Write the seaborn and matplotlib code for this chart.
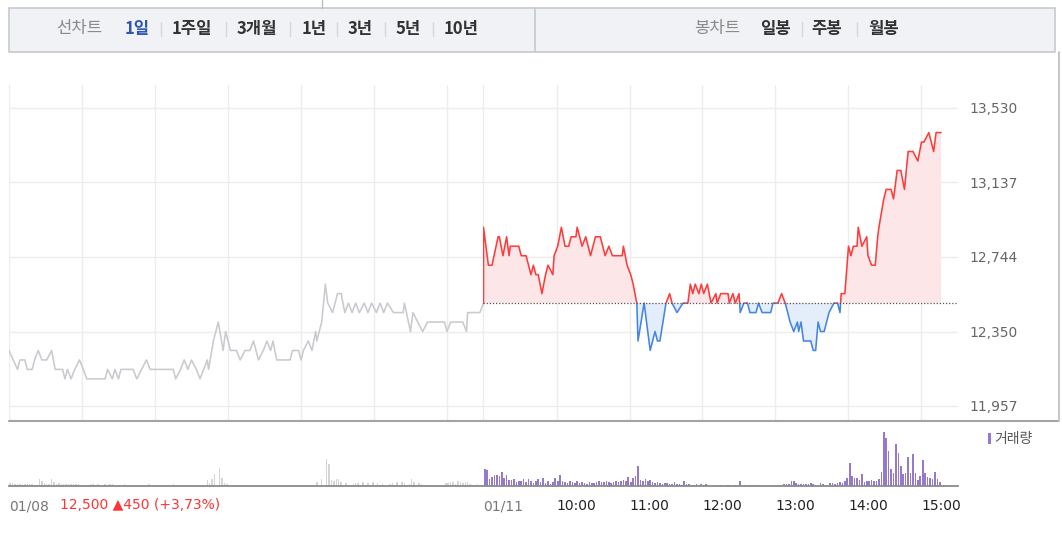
import matplotlib
matplotlib.use("Agg")
import matplotlib.pyplot as plt
from matplotlib.lines import Line2D
from matplotlib.patches import Rectangle
import numpy as np
import pandas as pd
import seaborn as sns

# ---------------- data ----------------
prev_close = 12500
y_ticks = [11957, 12350, 12744, 13137, 13530]
day_labels = ["01/08", "01/11"]
hour_labels = ["10:00", "11:00", "12:00", "13:00", "14:00", "15:00"]
day_change = "12,500 \u25b2450 (+3,73%)"

# 01/08 : minutes after 09:00, price
t08 = [0, 7, 9, 13, 15, 19, 21, 24, 27, 31, 35, 38, 44, 46, 48, 51, 54, 58, 61, 64,
       79, 81, 85, 87, 90, 92, 102, 105, 109, 113, 116, 135, 137, 141, 144, 147, 150,
       154, 157, 160, 163, 164, 168, 172, 176, 178, 182, 187, 190, 194, 198, 201, 205,
       209, 212, 215, 217, 220, 231, 233, 238, 240, 242, 246, 249, 252, 253, 257, 260,
       262, 266, 270, 273, 276, 279, 282, 285, 288, 292, 295, 298, 302, 305, 308, 311,
       316, 324, 325, 330, 332, 336, 340, 344, 358, 360, 363, 373, 376, 377, 387, 390]
p08 = [12250, 12150, 12200, 12200, 12150, 12150, 12200, 12250, 12200, 12200, 12250,
       12150, 12150, 12100, 12150, 12100, 12150, 12200, 12150, 12100, 12100, 12150,
       12100, 12150, 12100, 12150, 12150, 12100, 12150, 12200, 12150, 12150, 12100,
       12150, 12200, 12150, 12200, 12150, 12100, 12150, 12200, 12150, 12300, 12400,
       12250, 12350, 12250, 12250, 12200, 12250, 12250, 12300, 12200, 12250, 12300,
       12250, 12300, 12200, 12200, 12250, 12250, 12200, 12250, 12300, 12250, 12350,
       12300, 12400, 12600, 12500, 12450, 12550, 12550, 12450, 12500, 12450, 12500,
       12450, 12500, 12450, 12500, 12450, 12500, 12450, 12500, 12450, 12450, 12500,
       12350, 12450, 12400, 12350, 12400, 12400, 12350, 12400, 12400, 12350, 12450,
       12450, 12500]

# 01/11 : minutes after 09:00, price
t11 = [0, 4, 7, 12, 13, 16, 19, 21, 22, 29, 31, 35, 37, 39, 41, 43, 45, 48, 51, 53,
       57, 58, 61, 64, 67, 70, 72, 76, 77, 81, 84, 88, 92, 96, 100, 103, 106, 114, 115,
       118, 121, 123, 126, 127, 132, 137, 141, 143, 145, 150, 153, 155, 159, 164, 168,
       170, 172, 174, 177, 179, 181, 184, 187, 191, 192, 195, 201, 202, 205, 207, 210,
       211, 214, 217, 219, 224, 226, 229, 236, 238, 242, 245, 248, 252, 255, 258, 259,
       261, 263, 269, 271, 273, 275, 277, 280, 284, 288, 291, 293, 294, 297, 300, 302,
       304, 307, 308, 311, 315, 316, 319, 322, 324, 325, 329, 331, 335, 337, 340, 343,
       346, 349, 353, 357, 360, 362, 366, 370, 372, 376]
p11 = [12900, 12700, 12700, 12850, 12850, 12750, 12850, 12750, 12800, 12800, 12750,
       12750, 12700, 12650, 12700, 12650, 12650, 12550, 12650, 12700, 12650, 12750,
       12800, 12900, 12800, 12800, 12850, 12850, 12900, 12800, 12850, 12750, 12850,
       12850, 12750, 12800, 12750, 12750, 12800, 12700, 12650, 12600, 12500, 12300,
       12500, 12250, 12350, 12300, 12300, 12500, 12550, 12500, 12450, 12500, 12500,
       12600, 12550, 12600, 12550, 12600, 12550, 12600, 12500, 12550, 12500, 12550,
       12550, 12500, 12550, 12500, 12550, 12450, 12500, 12500, 12450, 12450, 12500,
       12450, 12450, 12500, 12500, 12550, 12500, 12400, 12350, 12400, 12350, 12400,
       12300, 12300, 12250, 12250, 12400, 12350, 12350, 12450, 12500, 12500, 12450,
       12550, 12550, 12800, 12750, 12800, 12800, 12900, 12800, 12850, 12750, 12700,
       12700, 12850, 12900, 13050, 13100, 13100, 13050, 13200, 13200, 13100, 13300,
       13300, 13250, 13350, 13350, 13400, 13300, 13400, 13400]

# volume, 2-minute bins from 09:00 (thousand shares)
vol08 = [3, 3, 2, 2, 2, 1, 2, 2, 2, 2, 1, 1, 7, 5, 3,
         2, 2, 7, 4, 2, 3, 2, 2, 2, 2, 2, 2, 2, 2, 1,
         0, 0, 0, 2, 2, 0, 2, 0, 0, 2, 1, 2, 2, 0, 0,
         0, 0, 2, 1, 0, 0, 0, 0, 0, 0, 0, 0, 2, 0, 1,
         0, 0, 1, 0, 0, 0, 0, 2, 0, 1, 0, 0, 1, 0, 0,
         0, 0, 0, 0, 0, 0, 6, 3, 7, 12, 0, 18, 8, 3, 2,
         1, 0, 1, 0, 1, 0, 0, 1, 0, 0, 0, 0, 0, 0, 0,
         0, 0, 0, 1, 0, 0, 0, 0, 0, 0, 1, 0, 1, 0, 0,
         1, 0, 1, 1, 0, 0, 4, 0, 7, 0, 27, 22, 6, 5, 7,
         7, 4, 0, 3, 1, 0, 2, 3, 3, 1, 4, 1, 3, 0, 4,
         0, 3, 1, 2, 0, 0, 2, 3, 1, 4, 0, 4, 3, 1, 2,
         7, 4, 1, 3, 2, 1, 0, 0, 1, 0, 0, 0, 0, 0, 3,
         3, 4, 4, 2, 5, 4, 3, 4, 4, 2, 1, 1, 2, 0, 0]
vol11 = [17, 16, 7, 9, 11, 11, 10, 14, 8, 11, 6, 6, 7, 4, 5,
         5, 7, 4, 7, 5, 3, 5, 7, 4, 8, 3, 5, 2, 4, 8,
         5, 11, 5, 4, 3, 5, 4, 3, 5, 3, 4, 3, 2, 4, 3,
         3, 4, 5, 4, 4, 5, 4, 3, 4, 5, 4, 5, 6, 5, 9,
         4, 8, 10, 20, 6, 5, 7, 5, 6, 4, 3, 4, 3, 2, 3,
         3, 2, 2, 4, 2, 2, 1, 5, 2, 2, 1, 1, 2, 0, 2,
         1, 2, 0, 0, 1, 0, 0, 1, 0, 0, 1, 0, 0, 1, 0,
         5, 1, 1, 0, 1, 1, 1, 0, 1, 0, 0, 0, 0, 0, 1,
         0, 1, 1, 2, 2, 2, 5, 5, 3, 2, 2, 2, 2, 2, 3,
         2, 1, 1, 3, 2, 1, 0, 3, 3, 2, 3, 4, 3, 5, 8,
         23, 10, 8, 8, 6, 12, 4, 5, 5, 6, 5, 5, 7, 14, 54,
         48, 35, 17, 13, 42, 33, 20, 12, 13, 29, 13, 32, 13, 6, 10,
         26, 13, 9, 8, 7, 14, 7, 4]

# ---------------- layout helpers ----------------
W, H = 1062, 537
SESSION = 390  # minutes 09:00-15:30
KR = ["Noto Sans CJK KR", "DejaVu Sans"]

RED, RED_FILL = "#ff3c3c", "#fde6e8"
BLUE, BLUE_FILL = "#4586e0", "#e4edfa"
GREY_LINE = "#c9cacf"
PURPLE = "#9479cc"


def fx(px):
    return px / W


def fy(py):
    return 1 - py / H


sns.set_style("white")
plt.rcParams["font.family"] = ["DejaVu Sans"]

fig = plt.figure(figsize=(W / 100, H / 100), dpi=100)
ax = fig.add_axes([fx(9), fy(420), fx(958) - fx(9), fy(85) - fy(420)])
axv = fig.add_axes([fx(9), fy(486), fx(958) - fx(9), fy(421) - fy(486)])

# ---------------- price panel ----------------
df08 = pd.DataFrame({"x": t08, "price": p08})
df11 = pd.DataFrame({"x": [SESSION] + [SESSION + t for t in t11],
                     "price": [prev_close] + p11})

sns.lineplot(data=df08, x="x", y="price", ax=ax, color=GREY_LINE, lw=1.15,
             estimator=None, sort=False)

x11 = df11["x"].to_numpy()
y11 = df11["price"].to_numpy()
ax.fill_between(x11, y11, prev_close, where=y11 >= prev_close, interpolate=True,
                color=RED_FILL, lw=0)
ax.fill_between(x11, y11, prev_close, where=y11 <= prev_close, interpolate=True,
                color=BLUE_FILL, lw=0)

sns.lineplot(data=df11, x="x", y="price", ax=ax, color=RED, lw=1.15,
             estimator=None, sort=False)
ax.lines[-1].set_clip_path(Rectangle((SESSION, prev_close), SESSION * 2, 5000,
                                     transform=ax.transData))
sns.lineplot(data=df11, x="x", y="price", ax=ax, color=BLUE, lw=1.15,
             estimator=None, sort=False)
ax.lines[-1].set_clip_path(Rectangle((SESSION, prev_close - 5000), SESSION * 2, 5000,
                                     transform=ax.transData))

ax.hlines(prev_close, SESSION, 2 * SESSION, colors="#555555", lw=0.9,
          linestyles=(0, (1, 1.5)), zorder=5)

ax.set_xlim(0, 2 * SESSION)
ax.set_ylim(11883, 13651)
grid_x = [d * SESSION + h * 60 for d in range(2) for h in range(7)]
ax.set_xticks(grid_x)
ax.set_xticklabels([])
ax.set_yticks(y_ticks)
ax.set_yticklabels([f"{v:,}" for v in y_ticks])
ax.yaxis.tick_right()
ax.tick_params(axis="y", length=0, pad=8, labelsize=10, labelcolor="#666666")
ax.tick_params(axis="x", length=0)
ax.grid(True, color="#ececec", lw=1)
for s in ax.spines.values():
    s.set_visible(False)
ax.set_xlabel("")
ax.set_ylabel("")
legend = ax.get_legend()
if legend:
    legend.remove()

# ---------------- volume panel ----------------
vx08 = np.arange(len(vol08)) * 2 + 1
vx11 = SESSION + np.arange(len(vol11)) * 2 + 1
axv.bar(vx08, vol08, width=1.2, color="#d3d4d8", lw=0)
axv.bar(vx11, vol11, width=1.3, color=PURPLE, lw=0)
axv.set_xlim(0, 2 * SESSION)
axv.set_ylim(0, 65)
axv.set_yticks([])
for s in ["left", "right", "top"]:
    axv.spines[s].set_visible(False)
axv.spines["bottom"].set_color("#8a8a8a")
axv.spines["bottom"].set_linewidth(1.3)

xt = [0, SESSION] + [SESSION + (i + 1) * 60 for i in range(len(hour_labels))]
axv.set_xticks(xt)
axv.set_xticklabels(day_labels + hour_labels, ha="left")
axv.tick_params(axis="x", length=7, width=1, color="#555555", pad=2.5,
                labelsize=10, labelcolor="#222222")
for lab in axv.get_xticklabels()[:2]:
    lab.set_color("#777777")

fig.text(fx(60), fy(505), day_change, color="#ff3333", fontsize=10,
         ha="left", va="center")

# volume legend
fig.patches.append(Rectangle((fx(988), fy(444)), fx(3), fy(433) - fy(444),
                             transform=fig.transFigure, color=PURPLE, lw=0))
fig.text(fx(994), fy(439), "거래량", family=KR, fontsize=10, color="#555555",
         ha="left", va="center")

# frame lines
fig.lines.append(Line2D([fx(9), fx(1059)], [fy(420.5), fy(420.5)],
                        transform=fig.transFigure, color="#a3a3a3", lw=1.5))
fig.lines.append(Line2D([fx(1059), fx(1059)], [fy(52), fy(421)],
                        transform=fig.transFigure, color="#c8c8c8", lw=1.5))
fig.lines.append(Line2D([fx(322), fx(322)], [fy(0), fy(8)],
                        transform=fig.transFigure, color="#bdbdbd", lw=1))

# ---------------- top menu bar ----------------
fig.patches.append(Rectangle((fx(9), fy(52)), fx(1055) - fx(9), fy(8) - fy(52),
                             transform=fig.transFigure, facecolor="#f1f2f6",
                             edgecolor="#c6c8d0", lw=1.2))
fig.lines.append(Line2D([fx(535), fx(535)], [fy(8), fy(52)],
                        transform=fig.transFigure, color="#c6c8d0", lw=1.2))

menu_left = [("선차트", 56, "#8a8a8a", "normal"), ("1일", 125, "#2d58b0", "bold"),
             ("1주일", 172, "#333333", "bold"), ("3개월", 237, "#333333", "bold"),
             ("1년", 302, "#333333", "bold"), ("3년", 348, "#333333", "bold"),
             ("5년", 396, "#333333", "bold"), ("10년", 444, "#333333", "bold")]
menu_right = [("봉차트", 694, "#8a8a8a", "normal"), ("일봉", 760, "#333333", "bold"),
              ("주봉", 811, "#333333", "bold"), ("월봉", 868, "#333333", "bold")]
for label, xpos, col, wt in menu_left + menu_right:
    fig.text(fx(xpos), fy(29), label, family=KR, fontsize=12, color=col,
             fontweight=wt, ha="left", va="center")
for sep in [161, 226, 290, 337, 385, 433, 802, 857]:
    fig.lines.append(Line2D([fx(sep), fx(sep)], [fy(22), fy(36)],
                            transform=fig.transFigure, color="#d6d7dc", lw=1))

fig.savefig("out.png", dpi=100)
